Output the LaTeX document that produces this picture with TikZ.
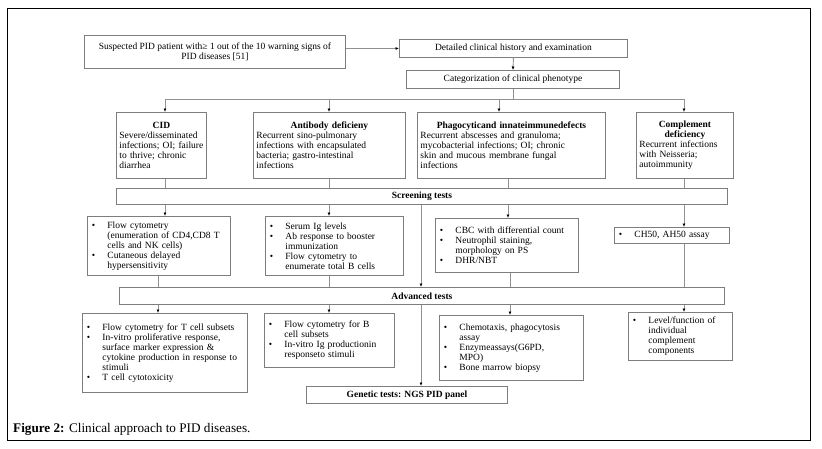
\documentclass[tikz,border=0pt]{standalone}
\usepackage{fontspec}
\setmainfont{Liberation Serif}
\usetikzlibrary{arrows.meta}
\definecolor{boxgray}{RGB}{125,125,125}
\definecolor{linegray}{RGB}{145,145,145}
\newcommand\bul{\makebox[17pt][l]{\hspace{1.5pt}\textbullet}}
\newcommand\ind{\hspace*{17pt}}
\begin{document}
\begin{tikzpicture}[x=1pt,y=-1pt,
  box/.style={draw=boxgray, line width=0.9pt, fill=white, inner xsep=3pt, inner ysep=1pt,
    font=\fontsize{9.5}{10}\selectfont, anchor=north west},
  tbox/.style={box, align=left},
  bar/.style={box, font=\fontsize{9.5}{10}\selectfont\bfseries, align=center},
  conn/.style={draw=linegray, line width=0.9pt},
  arr/.style={conn, -{Latex[length=3.5pt,width=3pt,color=black]}}]
\useasboundingbox (0,0) rectangle (822,448);
\draw[black, line width=0.8pt] (7,8) rectangle (810,440);

% top
\node[box, align=center, minimum width=261pt, minimum height=33pt] (sus) at (84,35)
  {Suspected PID patient with≥ 1 out of the 10 warning signs of\\PID diseases [51]};
\node[box, minimum width=228pt, minimum height=18pt] (det) at (399,39) {Detailed clinical history and examination};
\node[box, minimum width=213pt, minimum height=18pt] (cat) at (406,70) {Categorization of clinical phenotype};

% categories
\node[tbox, minimum width=90pt, minimum height=66pt, text width=84pt] (cid) at (116,112)
  {\centering\textbf{CID}\par\raggedright Severe/disseminated\\infections; OI; failure\\to thrive; chronic\\diarrhea};
\node[tbox, minimum width=152pt, minimum height=66pt, text width=146pt] (ab) at (253,112)
  {\centering\textbf{Antibody deficieny}\par\raggedright Recurrent sino-pulmonary\\infections with encapsulated\\bacteria; gastro-intestinal\\infections};
\node[tbox, minimum width=188pt, minimum height=66pt, text width=182pt] (ph) at (417,112)
  {\centering\textbf{Phagocyticand innateimmunedefects}\par\raggedright Recurrent abscesses and granuloma;\\mycobacterial infections; OI; chronic\\skin and mucous membrane fungal\\infections};
\node[tbox, minimum width=97pt, minimum height=66pt, text width=91pt] (co) at (636,112)
  {\centering\textbf{Complement}\\\textbf{deficiency}\par\raggedright Recurrent infections\\with Neisseria;\\autoimmunity};

% screening
\node[bar, minimum width=611pt, minimum height=16pt] (scr) at (116,188) {Screening tests};
\node[tbox, minimum width=143pt, minimum height=59pt, text width=137pt] (s1) at (87,216)
  {\bul Flow cytometry\\\ind (enumeration of CD4,CD8 T\\\ind cells and NK cells)\\\bul Cutaneous delayed\\\ind hypersensitivity};
\node[tbox, minimum width=138pt, minimum height=59pt, text width=132pt] (s2) at (265,216)
  {\bul Serum Ig levels\\\bul Ab response to booster\\\ind immunization\\\bul Flow cytometry to\\\ind enumerate total B cells};
\node[tbox, minimum width=143pt, minimum height=54pt, text width=137pt] (s3) at (435,218)
  {\bul CBC with differential count\\\bul Neutrophil staining,\\\ind morphology on PS\\\bul DHR/NBT};
\node[tbox, minimum width=115pt, minimum height=16pt, text width=109pt] (s4) at (614,227)
  {\bul CH50, AH50 assay};

% advanced
\node[bar, minimum width=605pt, minimum height=17pt] (adv) at (119,287) {Advanced tests};
\node[tbox, minimum width=165pt, minimum height=79pt, text width=159pt] (a1) at (82,313)
  {\bul Flow cytometry for T cell subsets\\\bul In-vitro proliferative response,\\\ind surface marker expression \&\\\ind cytokine production in response to\\\ind stimuli\\\bul T cell cytotoxicity};
\node[tbox, minimum width=130pt, minimum height=54pt, text width=124pt] (a2) at (264,313)
  {\bul Flow cytometry for B\\\ind cell subsets\\\bul In-vitro Ig productionin\\\ind responseto stimuli};
\node[tbox, minimum width=144pt, minimum height=65pt, text width=138pt] (a3) at (439,315)
  {\bul Chemotaxis, phagocytosis\\\ind assay\\\bul Enzymeassays(G6PD,\\\ind MPO)\\\bul Bone marrow biopsy};
\node[tbox, minimum width=104pt, minimum height=48pt, text width=98pt] (a4) at (628,312)
  {\bul Level/function of\\\ind individual\\\ind complement\\\ind components};

\node[bar, minimum width=201pt, minimum height=17pt] (gen) at (306,386) {Genetic tests: NGS PID panel};

% caption
\node[anchor=base west, inner sep=0pt, font=\fontsize{13.2}{15}\selectfont] (cap) at (13,432)
  {\textbf{Figure 2:} Clinical approach to PID diseases.};

% column coordinates
\coordinate (br) at (0,99);
\coordinate (c1) at (165,0);
\coordinate (c1b) at (158,0);
\coordinate (c2) at (329,0);
\coordinate (c3a) at (499,0);
\coordinate (c3) at (508,0);
\coordinate (c3b) at (510,0);
\coordinate (c4) at (684,0);
\coordinate (cm) at (421,0);

% connectors
\draw[arr] (sus.east |- det.west) -- (det.west);
\draw[arr] (det.south) -- (cat.north);
\draw[conn] (cat.south) -- (cat.south |- br);
\draw[conn] (c1 |- br) -- (c4 |- br);
\draw[arr] (c1 |- br) -- (c1 |- cid.north);
\draw[arr] (c2 |- br) -- (c2 |- ab.north);
\draw[arr] (c3a |- br) -- (c3a |- ph.north);
\draw[arr] (c4 |- br) -- (c4 |- co.north);

\draw[conn] (c1 |- cid.south) -- (c1 |- scr.north);
\draw[conn] (c2 |- ab.south) -- (c2 |- scr.north);
\draw[conn] (c3 |- ph.south) -- (c3 |- scr.north);
\draw[conn] (c4 |- co.south) -- (c4 |- scr.north);

\draw[arr] (c1 |- scr.south) -- (c1 |- s1.north);
\draw[arr] (c2 |- scr.south) -- (c2 |- s2.north);
\draw[arr] (c3 |- scr.south) -- (c3 |- s3.north);
\draw[arr] (c4 |- scr.south) -- (c4 |- s4.north);
\draw[arr] (cm |- scr.south) -- (cm |- adv.north);

\draw[conn] (c1b |- s1.south) -- (c1b |- adv.north);
\draw[conn] (c2 |- s2.south) -- (c2 |- adv.north);
\draw[conn] (c3b |- s3.south) -- (c3b |- adv.north);
\draw[conn] (c4 |- s4.south) -- (c4 |- adv.north);

\draw[arr] (c1b |- adv.south) -- (c1b |- a1.north);
\draw[arr] (c2 |- adv.south) -- (c2 |- a2.north);
\draw[arr] (c3b |- adv.south) -- (c3b |- a3.north);
\draw[arr] (c4 |- adv.south) -- (c4 |- a4.north);
\draw[arr] (cm |- adv.south) -- (cm |- gen.north);
\end{tikzpicture}
\end{document}
